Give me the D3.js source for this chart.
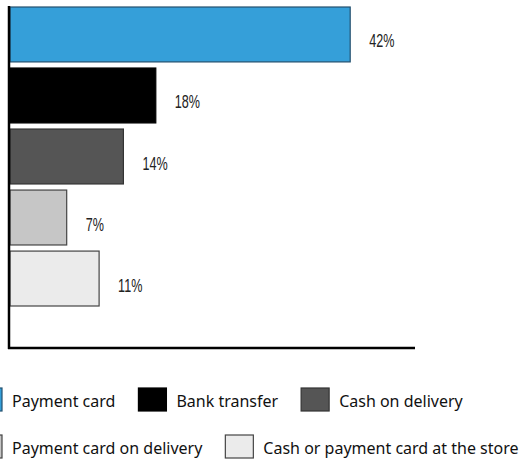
<!DOCTYPE html>
<html><head><meta charset="utf-8">
<script src="https://cdn.jsdelivr.net/npm/d3@7"></script>
<style>html,body{margin:0;padding:0;background:#fff;}svg{display:block;}</style>
</head><body>
<svg id="c" width="526" height="466"></svg>
<script>
const categories = ["Payment card","Bank transfer","Cash on delivery","Payment card on delivery","Cash or payment card at the store"];
const values = [42, 18, 14, 7, 11];
const valueLabels = ["42%","18%","14%","7%","11%"];
const colors = ["#359fd9","#000000","#555555","#c6c6c6","#ebebeb"];
const strokes = ["#23506e","#000000","#333333","#444444","#444444"];
const legendRows = [[0,1,2],[3,4]];

const svg = d3.select("#c");
const x = d3.scaleLinear().domain([0, 50]).range([10, 415]);
const y = d3.scaleBand().domain(categories).range([7, 306]).paddingInner(0.1).paddingOuter(0);

svg.selectAll("rect.bar").data(categories).join("rect").attr("class","bar")
  .attr("x", x(0)).attr("y", d => y(d))
  .attr("width", (d,i) => x(values[i]) - x(0)).attr("height", y.bandwidth())
  .attr("fill", (d,i) => colors[i]).attr("stroke", (d,i) => strokes[i]).attr("stroke-width", 1.2);

svg.selectAll("text.val").data(categories).join("text").attr("class","val")
  .attr("x", (d,i) => x(values[i]) + 19)
  .attr("y", d => y(d) + y.bandwidth()/2 + 13)
  .attr("font-family","'Liberation Sans', Arial, sans-serif")
  .attr("font-size", 18).attr("fill","#222")
  .text((d,i) => valueLabels[i])
  .each(function(){
    const w = this.getComputedTextLength();
    d3.select(this).attr("textLength", w * 0.7).attr("lengthAdjust", "spacingAndGlyphs");
  });

// axes lines
svg.append("line").attr("x1", 9).attr("x2", 9).attr("y1", 6).attr("y2", 349)
  .attr("stroke","#000").attr("stroke-width",2.5);
svg.append("line").attr("x1", 8).attr("x2", x(50)).attr("y1", 348).attr("y2", 348)
  .attr("stroke","#000").attr("stroke-width",2.5);

// legend
const rowY = [388, 435];
legendRows.forEach((row, r) => {
  let cx = -26;
  row.forEach(i => {
    const g = svg.append("g");
    g.append("rect").attr("x", cx).attr("y", rowY[r]).attr("width", 28).attr("height", 23)
      .attr("fill", colors[i]).attr("stroke", strokes[i]).attr("stroke-width", 1.2);
    const t = g.append("text").attr("x", cx + 38).attr("y", rowY[r] + 19)
      .attr("font-family","'Noto Sans', sans-serif").attr("font-size", 16).attr("fill","#111")
      .text(categories[i]);
    cx = cx + 38 + t.node().getComputedTextLength() + 23;
  });
});
</script>
</body></html>
